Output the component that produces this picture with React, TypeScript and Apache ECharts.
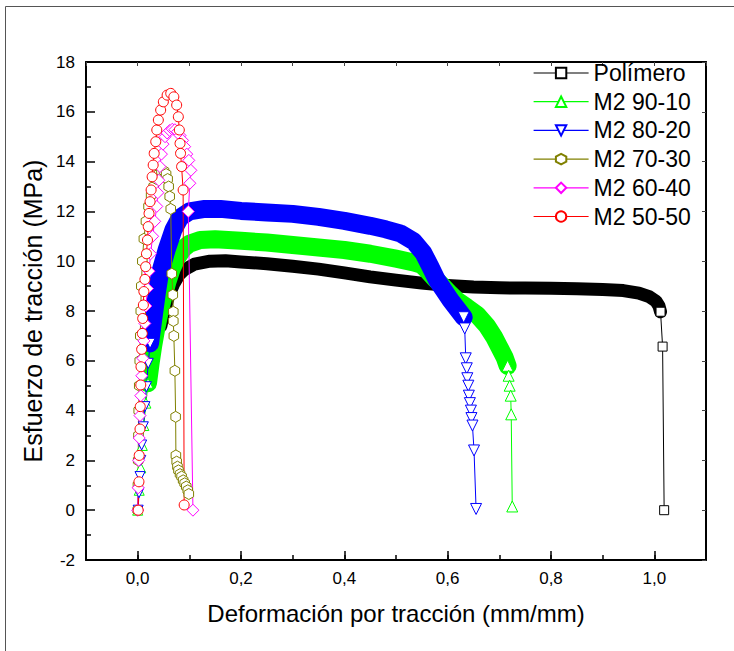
import React, { useEffect, useRef } from 'react';
import * as echarts from 'echarts';

// ---------- data (strain mm/mm, stress MPa) ----------
const legendNames = ['Polímero', 'M2 90-10', 'M2 80-20', 'M2 70-30', 'M2 60-40', 'M2 50-50'];
const seriesColors = ['#000000', '#00FF00', '#0000FF', '#808000', '#FF00FF', '#FF0000'];

const polimeroBand = [
  [0.045, 7.4], [0.05, 7.9], [0.06, 8.6], [0.07, 9.1], [0.08, 9.45], [0.09, 9.65], [0.11, 9.88], [0.14, 10.0],
  [0.17, 10.02], [0.2, 9.97], [0.25, 9.9], [0.3, 9.8], [0.35, 9.68], [0.4, 9.53], [0.45, 9.37], [0.5, 9.24],
  [0.55, 9.12], [0.6, 9.02], [0.65, 8.96], [0.7, 8.93], [0.75, 8.92], [0.8, 8.91], [0.85, 8.89], [0.9, 8.86],
  [0.94, 8.82], [0.97, 8.72], [0.99, 8.58], [1.003, 8.4], [1.009, 8.2], [1.012, 7.97],
];
const polimeroPoints = [[1.012, 7.97], [1.016, 6.57], [1.019, 0.0]];

const m9010Start = [[0, 0], [0.003, 0.8], [0.006, 1.7], [0.009, 2.6], [0.012, 3.4], [0.016, 4.3], [0.02, 5.1]];
const m9010Band = [
  [0.02, 5.1], [0.025, 5.9], [0.03, 6.6], [0.036, 7.3], [0.043, 8.0], [0.05, 8.6], [0.058, 9.2], [0.066, 9.7],
  [0.075, 10.1], [0.088, 10.5], [0.1, 10.7], [0.121, 10.85], [0.15, 10.88], [0.2, 10.82], [0.25, 10.75],
  [0.3, 10.65], [0.35, 10.55], [0.4, 10.45], [0.45, 10.3], [0.5, 10.1], [0.534, 9.95], [0.55, 9.85],
  [0.56, 9.65], [0.575, 9.3], [0.59, 9.0], [0.605, 8.68], [0.618, 8.42], [0.637, 8.15], [0.657, 7.85],
  [0.676, 7.4], [0.69, 6.95], [0.7, 6.55], [0.71, 6.15], [0.716, 5.8],
];
const m9010Tail = [[0.716, 5.8], [0.718, 5.4], [0.72, 5.0], [0.722, 4.6], [0.723, 3.85], [0.725, 0.15]];

const m8020Start = [
  [0.001, 0], [0.0025, 0.7], [0.0045, 1.35], [0.006, 2.0], [0.0077, 2.62], [0.011, 3.35], [0.014, 4.16],
  [0.017, 4.96], [0.0205, 5.9], [0.024, 6.7],
];
const m8020Band = [
  [0.024, 6.7], [0.03, 7.64], [0.037, 8.71], [0.043, 9.51], [0.056, 10.45], [0.069, 11.25], [0.082, 11.75],
  [0.1, 12.0], [0.13, 12.1], [0.16, 12.1], [0.2, 12.02], [0.25, 11.96], [0.3, 11.9], [0.35, 11.78],
  [0.4, 11.62], [0.45, 11.42], [0.48, 11.28], [0.508, 11.12], [0.534, 10.8], [0.553, 10.33], [0.566, 9.8],
  [0.579, 9.25], [0.592, 8.85], [0.605, 8.45], [0.618, 8.1], [0.631, 7.75],
];
const m8020Tail = [
  [0.631, 7.75], [0.633, 7.3], [0.635, 6.1], [0.637, 5.7], [0.638, 5.3], [0.64, 5.0], [0.641, 4.6],
  [0.643, 4.3], [0.645, 4.0], [0.646, 3.7], [0.648, 3.4], [0.651, 2.4], [0.655, 0.05],
];

const m7030Points = [
  [0, 0], [0.0005, 1.0], [0.001, 2.0], [0.0015, 3.0], [0.002, 4.0], [0.003, 5.0], [0.004, 6.0], [0.005, 7.0],
  [0.006, 8.0], [0.007, 9.0], [0.009, 10.0], [0.012, 10.9], [0.016, 11.6], [0.021, 12.2], [0.026, 12.65],
  [0.031, 13.0], [0.036, 13.3], [0.041, 13.5], [0.046, 13.62], [0.051, 13.62], [0.055, 13.5], [0.058, 13.3],
  [0.06, 13.0], [0.062, 12.6], [0.064, 12.1], [0.066, 9.5], [0.068, 8.65], [0.069, 7.97], [0.069, 7.6],
  [0.07, 7.0], [0.072, 5.6], [0.0735, 3.75], [0.074, 2.2], [0.0755, 1.95], [0.077, 1.75], [0.079, 1.6],
  [0.082, 1.45], [0.085, 1.35], [0.088, 1.2], [0.091, 1.08], [0.094, 0.95], [0.097, 0.8], [0.099, 0.65],
];

const m6040Points = [
  [0, 0], [0.001, 0.9], [0.002, 2.0], [0.003, 2.9], [0.0045, 3.8], [0.006, 4.6], [0.008, 5.4], [0.01, 6.1],
  [0.012, 6.8], [0.014, 7.5], [0.016, 8.2], [0.019, 8.9], [0.022, 9.6], [0.025, 10.3], [0.029, 11.0],
  [0.033, 11.6], [0.037, 12.2], [0.039, 12.75], [0.041, 13.25], [0.043, 13.8], [0.046, 14.3], [0.049, 14.7],
  [0.053, 15.0], [0.057, 15.15], [0.062, 15.25], [0.067, 15.3], [0.072, 15.28], [0.077, 15.2], [0.082, 15.05],
  [0.087, 14.85], [0.091, 14.6], [0.095, 14.3], [0.099, 14.05], [0.103, 13.65], [0.101, 13.13], [0.098, 12.0],
  [0.107, 0.0],
];

const m5050Points = [
  [0.001, 0.0], [0.0025, 1.14], [0.003, 2.2], [0.0045, 3.26], [0.005, 4.16], [0.006, 5.03], [0.0064, 5.76],
  [0.0077, 6.46], [0.009, 7.1], [0.0097, 7.7], [0.011, 8.24], [0.012, 8.78], [0.014, 9.27], [0.0155, 9.78],
  [0.017, 10.3], [0.019, 10.85], [0.0205, 11.39], [0.022, 11.92], [0.024, 12.39], [0.026, 12.86],
  [0.028, 13.39], [0.03, 13.86], [0.032, 14.33], [0.035, 14.8], [0.037, 15.27], [0.04, 15.67], [0.0445, 16.07],
  [0.0497, 16.4], [0.057, 16.67], [0.064, 16.74], [0.07, 16.6], [0.0755, 16.27], [0.0787, 15.8],
  [0.0806, 15.27], [0.082, 14.73], [0.083, 14.33], [0.085, 13.8], [0.088, 12.86], [0.09, 0.21],
];

const xTitle = 'Deformación por tracción (mm/mm)';
const yTitle = 'Esfuerzo de tracción (MPa)';

const FONT = '"Liberation Sans", Arial, Helvetica, sans-serif';
const HEX = 'path://M0,-10 L8.66,-5 L8.66,5 L0,10 L-8.66,5 L-8.66,-5 Z';

function markerSeries(name: string, color: string, data: number[][], symbol: string, size: number, rotate = 0) {
  return {
    type: 'line',
    name,
    data,
    xAxisIndex: 0,
    yAxisIndex: 0,
    symbol,
    symbolSize: size,
    symbolRotate: rotate,
    symbolKeepAspect: true,
    showAllSymbol: true,
    itemStyle: { color: '#ffffff', borderColor: color, borderWidth: 1 },
    lineStyle: { color, width: 1 },
    emphasis: { disabled: true },
    silent: true,
  };
}

function bandSeries(name: string, color: string, data: number[][], width: number) {
  return {
    type: 'line',
    name,
    data,
    xAxisIndex: 0,
    yAxisIndex: 0,
    symbol: 'none',
    lineStyle: { color, width, cap: 'round', join: 'round' },
    itemStyle: { color },
    emphasis: { disabled: true },
    silent: true,
  };
}

const xFmt = (v: number) => {
  const r = Math.round(v * 10);
  if (Math.abs(v * 10 - r) > 1e-6 || r % 2 !== 0 || r < 0 || r > 10) return '';
  return (r / 10).toFixed(1).replace('.', ',');
};

export default function App() {
  const ref = useRef<HTMLDivElement>(null);
  useEffect(() => {
    if (!ref.current) return;
    const chart = echarts.init(ref.current, undefined, { renderer: 'svg' });
    const axisLineStyle = { color: '#000', width: 2 };
    const option = {
      animation: false,
      backgroundColor: '#ffffff',
      grid: { left: 86, top: 62, right: 28, bottom: 91, containLabel: false },
      legend: {
        data: legendNames,
        orient: 'vertical',
        left: 533,
        top: 61.5,
        padding: 0,
        itemWidth: 55,
        itemHeight: 13,
        itemGap: 5.7,
        selectedMode: false,
        lineStyle: { width: 1.2 },
        textStyle: { fontSize: 23, color: '#000', fontFamily: FONT },
      },
      graphic: [
        {
          type: 'rect',
          shape: { x: 5.5, y: 6.5, width: 740, height: 700 },
          style: { fill: 'none', stroke: '#555', lineWidth: 1 },
          silent: true,
          z: -10,
        },
      ],
      xAxis: [
        {
          type: 'value',
          position: 'bottom',
          min: -0.1,
          max: 1.1,
          splitNumber: 6,
          axisLine: { show: true, onZero: false, lineStyle: axisLineStyle },
          axisTick: { show: true, inside: true, length: 9, lineStyle: { color: '#000', width: 1.5 } },
          axisLabel: {
            show: true,
            showMinLabel: false,
            showMaxLabel: false,
            margin: 10,
            formatter: xFmt,
            color: '#000',
            fontSize: 17,
            fontFamily: FONT,
          },
          splitLine: { show: false },
          name: xTitle,
          nameLocation: 'middle',
          nameGap: 41,
          nameTextStyle: { fontSize: 24, color: '#000', fontFamily: FONT },
        },
        {
          type: 'value',
          position: 'bottom',
          min: -0.1,
          max: 1.1,
          interval: 0.1,
          axisLine: { show: false, onZero: false },
          axisTick: { show: true, inside: true, length: 5, lineStyle: { color: '#000', width: 1.5 } },
          axisLabel: { show: false },
          splitLine: { show: false },
        },
        {
          type: 'value',
          position: 'top',
          min: -0.1,
          max: 1.1,
          interval: 0.1,
          axisLine: { show: true, onZero: false, lineStyle: axisLineStyle },
          axisTick: { show: true, inside: true, length: 4, lineStyle: { color: '#444', width: 1 } },
          axisLabel: { show: false },
          splitLine: { show: false },
        },
      ],
      yAxis: [
        {
          type: 'value',
          position: 'left',
          min: -2,
          max: 18,
          interval: 2,
          axisLine: { show: true, onZero: false, lineStyle: axisLineStyle },
          axisTick: { show: true, inside: true, length: 9, lineStyle: { color: '#000', width: 1.5 } },
          minorTick: { show: true, splitNumber: 2, length: 5, lineStyle: { color: '#000', width: 1.5 } },
          axisLabel: { margin: 11, color: '#000', fontSize: 17, fontFamily: FONT },
          splitLine: { show: false },
          minorSplitLine: { show: false },
          name: yTitle,
          nameLocation: 'middle',
          nameGap: 38,
          nameTextStyle: { fontSize: 25, color: '#000', fontFamily: FONT },
        },
        {
          type: 'value',
          position: 'right',
          min: -2,
          max: 18,
          interval: 2,
          axisLine: { show: true, onZero: false, lineStyle: axisLineStyle },
          axisTick: { show: true, inside: true, length: 4, lineStyle: { color: '#444', width: 1 } },
          axisLabel: { show: false },
          splitLine: { show: false },
        },
      ],
      series: [
        bandSeries('Polímero banda', seriesColors[0], polimeroBand, 13),
        markerSeries(legendNames[0], seriesColors[0], polimeroPoints, 'rect', 9),
        bandSeries('M2 90-10 banda', seriesColors[1], m9010Band, 18),
        markerSeries('M2 90-10 inicio', seriesColors[1], m9010Start, 'triangle', 10),
        markerSeries(legendNames[1], seriesColors[1], m9010Tail, 'triangle', 11),
        bandSeries('M2 80-20 banda', seriesColors[2], m8020Band, 18),
        markerSeries('M2 80-20 inicio', seriesColors[2], m8020Start, 'triangle', 10, 180),
        markerSeries(legendNames[2], seriesColors[2], m8020Tail, 'triangle', 11, 180),
        markerSeries(legendNames[3], seriesColors[3], m7030Points, HEX, 11),
        markerSeries(legendNames[4], seriesColors[4], m6040Points, 'diamond', 12),
        markerSeries(legendNames[5], seriesColors[5], m5050Points, 'circle', 10),
      ],
    };
    chart.setOption(option as any);
    return () => chart.dispose();
  }, []);
  return (
    <div
      ref={ref}
      style={{ position: 'fixed', left: 0, top: 0, width: 734, height: 651, background: '#fff' }}
    />
  );
}
